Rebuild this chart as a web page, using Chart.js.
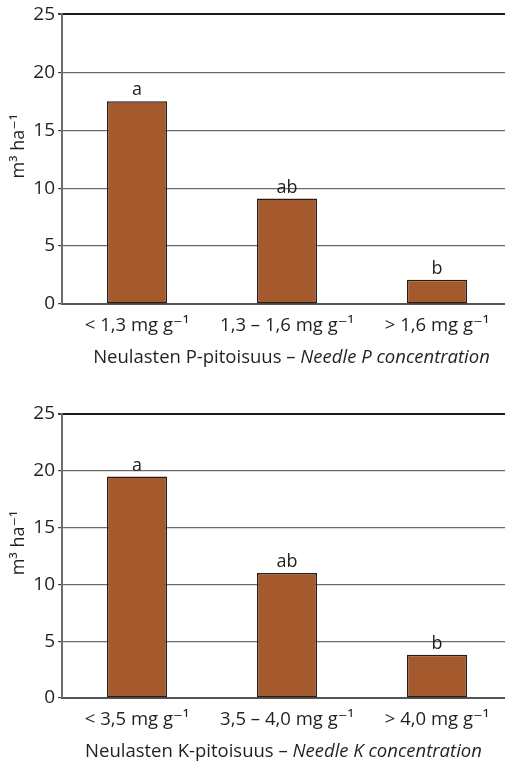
<!DOCTYPE html>
<html>
<head>
<meta charset="utf-8">
<script src="https://cdn.jsdelivr.net/npm/chart.js@4"></script>
<style>
  html, body { margin: 0; padding: 0; background: #fff; overflow: hidden; }
  .box { width: 505px; overflow: hidden; }
  canvas { display: block; }
</style>
</head>
<body>
<div class="box"><canvas id="chartP" width="512" height="385"></canvas></div>
<div class="box"><canvas id="chartK" width="512" height="378"></canvas></div>
<script>
const pLabels = ['< 1,3 mg g⁻¹', '1,3 – 1,6 mg g⁻¹', '> 1,6 mg g⁻¹'];
const pValues = [17.5, 9.1, 2.1];
const pLetters = ['a', 'ab', 'b'];

const kLabels = ['< 3,5 mg g⁻¹', '3,5 – 4,0 mg g⁻¹', '> 4,0 mg g⁻¹'];
const kValues = [19.5, 11.0, 3.8];
const kLetters = ['a', 'ab', 'b'];

const yMax = 25;
const yStep = 5;

const FONT = '"Open Sans", "DejaVu Sans", sans-serif';
const TEXT = '#231f20';

// letters above bars, the two-style x axis title and the y title
const annotate = {
  id: 'annotate',
  afterDatasetsDraw(chart, args, opts) {
    const { ctx, chartArea } = chart;
    const bars = chart.getDatasetMeta(0).data;
    ctx.save();
    ctx.fillStyle = TEXT;
    ctx.font = `18px ${FONT}`;
    ctx.textAlign = 'center';
    ctx.textBaseline = 'bottom';
    bars.forEach((bar, i) => ctx.fillText(opts.letters[i], bar.x, bar.y - 2));

    const normal = `18.5px ${FONT}`;
    const italic = `italic 18.5px ${FONT}`;
    ctx.font = normal;
    const w1 = ctx.measureText(opts.title[0]).width;
    ctx.font = italic;
    const w2 = ctx.measureText(opts.title[1]).width;
    let x = (chartArea.left + 505) / 2 + opts.shift - (w1 + w2) / 2;
    const y = chartArea.bottom + opts.titleGap;
    ctx.textAlign = 'left';
    ctx.textBaseline = 'middle';
    ctx.font = normal;
    ctx.fillText(opts.title[0], x, y);
    ctx.font = italic;
    ctx.fillText(opts.title[1], x + w1, y);

    // y axis title, a bit above the middle as in the print
    ctx.translate(19, (chartArea.top + chartArea.bottom) / 2 - 13);
    ctx.rotate(-Math.PI / 2);
    ctx.font = `18px ${FONT}`;
    ctx.textAlign = 'center';
    ctx.textBaseline = 'middle';
    ctx.fillText('m³ ha⁻¹', 0, 0);
    ctx.restore();
  }
};

function makeChart(id, labels, values, letters, title, top, xHeight, shift) {
  return new Chart(document.getElementById(id).getContext('2d'), {
    type: 'bar',
    data: {
      labels,
      datasets: [{
        data: values,
        backgroundColor: '#a55a2d',
        borderColor: '#2a1d14',
        borderWidth: 1.5,
        borderSkipped: false,
        barPercentage: 0.4,
        categoryPercentage: 1
      }]
    },
    options: {
      responsive: false,
      animation: false,
      layout: { padding: { top, right: 0, bottom: 0, left: 0 } },
      plugins: {
        legend: { display: false },
        tooltip: { enabled: false },
        annotate: { letters, title, titleGap: 54, shift }
      },
      scales: {
        x: {
          grid: { display: false, drawTicks: false },
          border: { display: true, color: '#555', width: 2 },
          ticks: { color: TEXT, font: { family: FONT, size: 18.5 }, padding: 11, maxRotation: 0 },
          afterFit: (scale) => { scale.height = xHeight; }
        },
        y: {
          min: 0,
          max: yMax,
          ticks: { stepSize: yStep, color: TEXT, font: { family: FONT, size: 19 }, padding: 3 },
          grid: {
            color: (c) => (c.tick && c.tick.value === yMax ? '#1a1a1a' : '#6b6b6b'),
            lineWidth: (c) => (c.tick && c.tick.value === yMax ? 2 : 1.2),
            tickLength: 4,
            tickColor: '#444'
          },
          border: { display: true, color: '#6d6d6d', width: 2 },
          afterFit: (scale) => { scale.width = 62; }
        }
      }
    },
    plugins: [annotate]
  });
}

makeChart('chartP', pLabels, pValues, pLetters,
  ['Neulasten P-pitoisuus – ', 'Needle P concentration'], 14, 81, 8);
makeChart('chartK', kLabels, kValues, kLetters,
  ['Neulasten K-pitoisuus – ', 'Needle K concentration'], 29, 65, 0);
</script>
</body>
</html>
